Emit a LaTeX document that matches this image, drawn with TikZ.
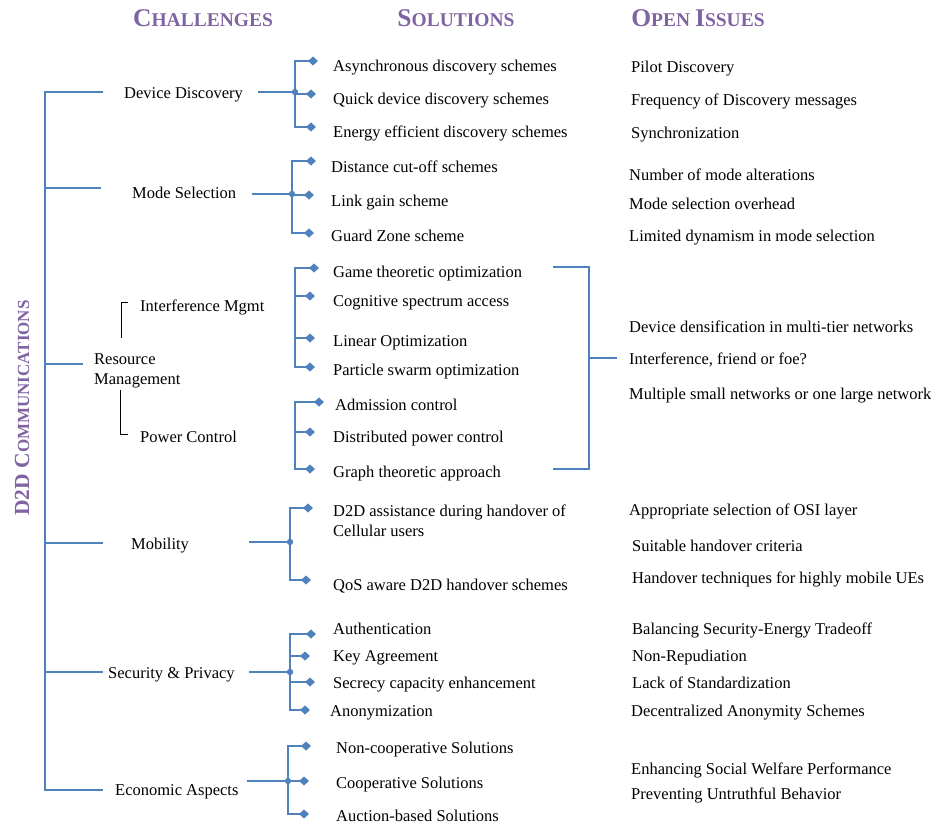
\documentclass[tikz,border=0pt]{standalone}
\usepackage{fontspec}
\setmainfont{Liberation Serif}
\usetikzlibrary{arrows.meta}

\definecolor{linkblue}{HTML}{4F81BD}
\definecolor{headpurple}{HTML}{8064A2}

\newcommand{\headcaps}[2]{{\fontsize{25.5}{28}\selectfont #1}{\fontsize{19.5}{22}\selectfont #2}}
\newcommand{\sidecaps}[2]{{\fontsize{21.5}{24}\selectfont #1}{\fontsize{17}{20}\selectfont #2}}

\tikzset{
  lbl/.style={inner sep=0pt, font=\fontsize{16.5}{20}\selectfont},
  txt/.style={lbl, anchor=west, text height=15pt, text depth=2pt},
  head/.style={inner sep=0pt, text=headpurple, font=\bfseries},
  bline/.style={draw=linkblue, line width=2.2pt},
  tipline/.style={bline, -{Diamond[length=10pt,width=9pt]}},
  kline/.style={draw=black, line width=0.8pt},
  joint/.style={fill=linkblue}
}

\begin{document}
\begin{tikzpicture}[x=1pt,y=-1pt]
    \useasboundingbox (0,0) rectangle (937,825);

    % Headings
    \node[head] (hch) at (203,18) {\headcaps{C}{HALLENGES}};
    \node[head] (hso) at (456,18) {\headcaps{S}{OLUTIONS}};
    \node[head] (hoi) at (698,18) {\headcaps{O}{PEN }\headcaps{I}{SSUES}};
    \node[head, rotate=90] (hd2d) at (22,408) {\sidecaps{D2D C}{OMMUNICATIONS}};

    % Challenges
    \node[txt] (dd) at (124,92) {Device Discovery};
    \node[txt] (ms) at (132,192) {Mode Selection};
    \node[lbl, anchor=west, align=left] (rm) at (94,371) {Resource\\Management};
    \node[txt] (im) at (140,305) {Interference Mgmt};
    \node[txt] (pc) at (140,436) {Power Control};
    \node[txt] (mo) at (131,543) {Mobility};
    \node[txt] (sp) at (108,672) {Security \& Privacy};
    \node[txt] (ea) at (115,789) {Economic Aspects};

    % Solutions
    \node[txt] (s11) at (333,65) {Asynchronous discovery schemes};
    \node[txt] (s12) at (333,98) {Quick device discovery schemes};
    \node[txt] (s13) at (333,131) {Energy efficient discovery schemes};
    \node[txt] (s21) at (331,166) {Distance cut-off schemes};
    \node[txt] (s22) at (331,200) {Link gain scheme};
    \node[txt] (s23) at (331,235) {Guard Zone scheme};
    \node[txt] (s31) at (333,271) {Game theoretic optimization};
    \node[txt] (s32) at (333,300) {Cognitive spectrum access};
    \node[txt] (s33) at (333,340) {Linear Optimization};
    \node[txt] (s34) at (333,369) {Particle swarm optimization};
    \node[txt] (s41) at (335,404) {Admission control};
    \node[txt] (s42) at (333,436) {Distributed power control};
    \node[txt] (s43) at (333,471) {Graph theoretic approach};
    \node[lbl, anchor=north west, align=left] (s51) at (333,505) {D2D assistance during handover of\\Cellular users};
    \node[txt] (s52) at (333,584) {QoS aware D2D handover schemes};
    \node[txt] (s61) at (333,628) {Authentication};
    \node[txt] (s62) at (333,655) {Key Agreement};
    \node[txt] (s63) at (333,682) {Secrecy capacity enhancement};
    \node[txt] (s64) at (330,710) {Anonymization};
    \node[txt] (s71) at (336,747) {Non-cooperative Solutions};
    \node[txt] (s72) at (336,782) {Cooperative Solutions};
    \node[txt] (s73) at (336,815) {Auction-based Solutions};

    % Open issues
    \node[txt] (o11) at (631,66) {Pilot Discovery};
    \node[txt] (o12) at (631,99) {Frequency of Discovery messages};
    \node[txt] (o13) at (631,132) {Synchronization};
    \node[txt] (o21) at (629,174) {Number of mode alterations};
    \node[txt] (o22) at (629,203) {Mode selection overhead};
    \node[txt] (o23) at (629,235) {Limited dynamism in mode selection};
    \node[txt] (o31) at (629,326) {Device densification in multi-tier networks};
    \node[txt] (o32) at (629,358) {Interference, friend or foe?};
    \node[txt] (o33) at (629,393) {Multiple small networks or one large network};
    \node[txt] (o51) at (629,509) {Appropriate selection of OSI layer};
    \node[txt] (o52) at (632,545) {Suitable handover criteria};
    \node[txt] (o53) at (632,577) {Handover techniques for highly mobile UEs};
    \node[txt] (o61) at (632,628) {Balancing Security-Energy Tradeoff};
    \node[txt] (o62) at (632,655) {Non-Repudiation};
    \node[txt] (o63) at (632,682) {Lack of Standardization};
    \node[txt] (o64) at (631,710) {Decentralized Anonymity Schemes};
    \node[txt] (o71) at (631,768) {Enhancing Social Welfare Performance};
    \node[txt] (o72) at (631,793) {Preventing Untruthful Behavior};

    % Trunk
    \coordinate (trunk) at (45,0);
    \coordinate (bdd) at (103,92);
    \coordinate (bms) at (101,188);
    \coordinate (brm) at (83,364);
    \coordinate (bmo) at (103,543);
    \coordinate (bsp) at (103,672);
    \coordinate (bea) at (103,790);
    \draw[bline] (bdd) -- (bdd -| trunk) -- (bea -| trunk) -- (bea);
    \draw[bline] (bms -| trunk) -- (bms);
    \draw[bline] (brm -| trunk) -- (brm);
    \draw[bline] (bmo -| trunk) -- (bmo);
    \draw[bline] (bsp -| trunk) -- (bsp);

    % Sub-challenges
    \coordinate (kimt) at (128,302);
    \coordinate (kimb) at (121,338);
    \coordinate (kpct) at (120,390);
    \coordinate (kpcb) at (128,434);
    \draw[kline] (kimt) -| (kimb);
    \draw[kline] (kpct) |- (kpcb);

    % Device discovery
    \coordinate (sdd) at (258,92);
    \coordinate (jdd) at (295,92);
    \draw[bline] (sdd) -- (jdd);
    \draw[tipline] (jdd) |- ([xshift=-15pt,yshift=4pt]s11.west);
    \draw[tipline] (jdd) |- ([xshift=-17pt,yshift=4pt]s12.west);
    \draw[tipline] (jdd) |- ([xshift=-17pt,yshift=4pt]s13.west);
    \fill[joint] (jdd) circle (3.2);

    % Mode selection
    \coordinate (sms) at (252,194);
    \coordinate (jms) at (292,194);
    \draw[bline] (sms) -- (jms);
    \draw[tipline] (jms) |- ([xshift=-15pt,yshift=5pt]s21.west);
    \draw[tipline] (jms) |- ([xshift=-17pt,yshift=5pt]s22.west);
    \draw[tipline] (jms) |- ([xshift=-17pt,yshift=2pt]s23.west);
    \fill[joint] (jms) circle (3.2);

    % Interference and power
    \coordinate (jim) at (295,300);
    \coordinate (jpc) at (295,436);
    \draw[tipline] (jim) |- ([xshift=-14pt,yshift=3pt]s31.west);
    \draw[tipline] (jim) |- ([xshift=-18pt,yshift=4pt]s32.west);
    \draw[tipline] (jim) |- ([xshift=-18pt,yshift=2pt]s33.west);
    \draw[tipline] (jim) |- ([xshift=-18pt,yshift=2pt]s34.west);
    \draw[tipline] (jpc) |- ([xshift=-11pt,yshift=2pt]s41.west);
    \draw[tipline] (jpc) |- ([xshift=-18pt,yshift=4pt]s42.west);
    \draw[tipline] (jpc) |- ([xshift=-18pt,yshift=2pt]s43.west);

    \coordinate (rtop) at (553,267);
    \coordinate (rbot) at (553,469);
    \coordinate (rjoin) at (589,358);
    \coordinate (rstem) at (617,358);
    \draw[bline] (rtop) -| (rjoin) |- (rbot);
    \draw[bline] (rjoin) -- (rstem);

    % Mobility
    \coordinate (smo) at (249,542);
    \coordinate (jmo) at (290,542);
    \draw[bline] (smo) -- (jmo);
    \draw[tipline] (jmo) |- ([xshift=-20pt,yshift=-3pt]s51.north west);
    \draw[tipline] (jmo) |- ([xshift=-22pt,yshift=4pt]s52.west);
    \fill[joint] (jmo) circle (3.2);

    % Security and privacy
    \coordinate (ssp) at (249,672);
    \coordinate (jsp) at (290,672);
    \draw[bline] (ssp) -- (jsp);
    \draw[tipline] (jsp) |- ([xshift=-17pt,yshift=-6pt]s61.west);
    \draw[tipline] (jsp) |- ([xshift=-23pt,yshift=-1pt]s62.west);
    \draw[tipline] (jsp) |- ([xshift=-18pt,yshift=0pt]s63.west);
    \draw[tipline] (jsp) |- ([xshift=-20pt,yshift=0pt]s64.west);
    \fill[joint] (jsp) circle (3.2);

    % Economic aspects
    \coordinate (sea) at (247,781);
    \coordinate (jea) at (288,781);
    \draw[bline] (sea) -- (jea);
    \draw[tipline] (jea) |- ([xshift=-25pt,yshift=1pt]s71.west);
    \draw[tipline] (jea) |- ([xshift=-27pt,yshift=1pt]s72.west);
    \draw[tipline] (jea) |- ([xshift=-27pt,yshift=1pt]s73.west);
    \fill[joint] (jea) circle (3.2);
\end{tikzpicture}
\end{document}
